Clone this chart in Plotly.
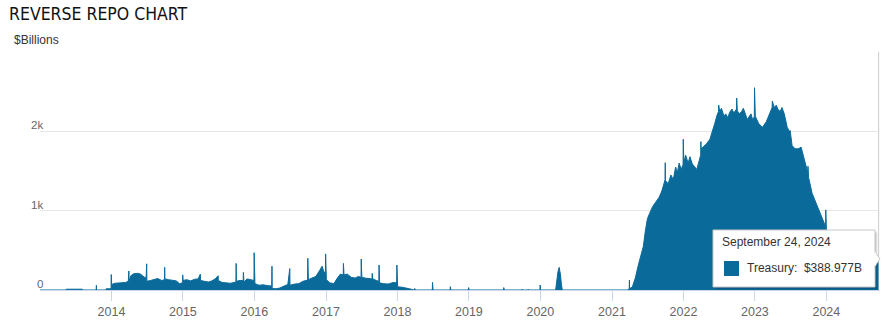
import plotly.graph_objects as go

# ---------------- data ----------------
dates = [
    "2013-01-01", "2013-05-14", "2013-05-15", "2013-08-05", "2013-08-06",
    "2013-10-15", "2013-10-16", "2013-10-17",
    "2013-12-04", "2013-12-05", "2013-12-30", "2013-12-31",
    "2014-01-02", "2014-01-20", "2014-02-10", "2014-02-28", "2014-03-14", "2014-03-28", "2014-03-31",
    "2014-04-01", "2014-04-10", "2014-04-25", "2014-05-15", "2014-05-30", "2014-06-16", "2014-06-27",
    "2014-06-30", "2014-07-01", "2014-07-20", "2014-08-08", "2014-08-25", "2014-09-15", "2014-09-29",
    "2014-09-30", "2014-10-01", "2014-10-20", "2014-11-10", "2014-11-28", "2014-12-15", "2014-12-30",
    "2014-12-31",
    "2015-01-02", "2015-01-20", "2015-02-10", "2015-03-02", "2015-03-20", "2015-03-31", "2015-04-01",
    "2015-04-20", "2015-05-11", "2015-05-29", "2015-06-15", "2015-06-30", "2015-07-01", "2015-07-20",
    "2015-08-10", "2015-09-01", "2015-09-29", "2015-09-30", "2015-10-01", "2015-10-20", "2015-11-05",
    "2015-11-06", "2015-11-09", "2015-11-25", "2015-12-15", "2015-12-30", "2015-12-31",
    "2016-01-04", "2016-01-25", "2016-02-15", "2016-03-10", "2016-03-30", "2016-03-31", "2016-04-01",
    "2016-04-20", "2016-05-10", "2016-06-01", "2016-06-20", "2016-06-30", "2016-07-01", "2016-07-25",
    "2016-08-15", "2016-09-06", "2016-09-29", "2016-09-30", "2016-10-03", "2016-10-20", "2016-11-10",
    "2016-11-28", "2016-12-12", "2016-12-22", "2016-12-29", "2016-12-30",
    "2017-01-03", "2017-01-20", "2017-02-10", "2017-02-28", "2017-03-15", "2017-03-30", "2017-03-31",
    "2017-04-03", "2017-04-20", "2017-05-10", "2017-05-30", "2017-06-15", "2017-06-29", "2017-06-30",
    "2017-07-03", "2017-07-20", "2017-08-10", "2017-08-24", "2017-08-25", "2017-08-28", "2017-09-15",
    "2017-09-28", "2017-09-29", "2017-10-02", "2017-10-20", "2017-11-15", "2017-12-11", "2017-12-28",
    "2017-12-29",
    "2018-01-02", "2018-01-25", "2018-02-20", "2018-03-12", "2018-03-26", "2018-03-29", "2018-03-30",
    "2018-04-02", "2018-06-28", "2018-06-29", "2018-07-02", "2018-09-27", "2018-09-28", "2018-10-01",
    "2018-12-28", "2018-12-31", "2019-01-02",
    "2019-06-27", "2019-06-28", "2019-07-01", "2019-09-27", "2019-09-30", "2019-10-01", "2019-10-30",
    "2019-10-31", "2019-11-01", "2019-12-30", "2019-12-31", "2020-01-02",
    "2020-03-19", "2020-03-24", "2020-03-31", "2020-04-06", "2020-04-13", "2020-04-17", "2020-04-22",
    "2021-03-24", "2021-03-25", "2021-03-30", "2021-03-31", "2021-04-01", "2021-04-15", "2021-04-30",
    "2021-05-14", "2021-05-28", "2021-06-10", "2021-06-21", "2021-07-01", "2021-07-12", "2021-07-27",
    "2021-08-10", "2021-08-30", "2021-09-13", "2021-09-29", "2021-09-30", "2021-10-01", "2021-10-15",
    "2021-10-29", "2021-11-10", "2021-11-22", "2021-12-01", "2021-12-10", "2021-12-20", "2021-12-30",
    "2021-12-31",
    "2022-01-03", "2022-01-12", "2022-01-25", "2022-02-03", "2022-02-15", "2022-02-25", "2022-03-10",
    "2022-03-30", "2022-03-31", "2022-04-01", "2022-04-14", "2022-04-28", "2022-05-16", "2022-05-27",
    "2022-06-10", "2022-06-21", "2022-06-29", "2022-06-30", "2022-07-05", "2022-07-14", "2022-07-27",
    "2022-08-05", "2022-08-16", "2022-08-25", "2022-09-06", "2022-09-15", "2022-09-29", "2022-09-30",
    "2022-10-03", "2022-10-13", "2022-10-25", "2022-11-03", "2022-11-15", "2022-11-23", "2022-12-01",
    "2022-12-12", "2022-12-20", "2022-12-29", "2022-12-30",
    "2023-01-03", "2023-01-20", "2023-02-08", "2023-02-28", "2023-03-15", "2023-03-30", "2023-03-31",
    "2023-04-10", "2023-04-20", "2023-04-28", "2023-05-10", "2023-05-19", "2023-05-31", "2023-06-15",
    "2023-06-29", "2023-06-30", "2023-07-10", "2023-07-25", "2023-08-10", "2023-08-25", "2023-09-11",
    "2023-09-28", "2023-09-29", "2023-10-02", "2023-10-20", "2023-11-10", "2023-11-28", "2023-12-15",
    "2023-12-28", "2023-12-29",
    "2024-01-02", "2024-01-22", "2024-02-12", "2024-03-01", "2024-03-27", "2024-03-28", "2024-04-15",
    "2024-05-10", "2024-06-03", "2024-06-27", "2024-06-28", "2024-07-15", "2024-08-12", "2024-08-30",
    "2024-09-10", "2024-09-24",
]

treasury_b = [
    0, 0, 10, 10, 0,
    0, 60, 0,
    0, 15, 15, 195,
    70, 85, 90, 100, 95, 110, 240,
    120, 180, 205, 210, 200, 165, 150,
    330, 110, 120, 130, 145, 120, 130,
    285, 140, 130, 120, 115, 80, 90,
    190,
    120, 130, 115, 135, 140, 200, 120,
    110, 100, 115, 140, 180, 120, 95,
    90, 85, 100, 335, 110, 120, 120,
    222, 100, 140, 130, 120, 470,
    80, 60, 65, 55, 50, 300, 20,
    15, 25, 50, 70, 270, 60, 75,
    80, 110, 125, 400, 130, 150, 170,
    240, 300, 220, 230, 455,
    130, 90, 80, 150, 200, 190, 335,
    190, 200, 160, 150, 170, 160, 390,
    160, 150, 140, 140, 210, 140, 120,
    110, 315, 90, 80, 75, 95, 90,
    315,
    40, 35, 25, 10, 0, 0, 20,
    0, 0, 96, 0, 0, 42, 0,
    0, 30, 0,
    0, 30, 0, 0, 10, 0, 0,
    10, 0, 0, 63, 0,
    0, 125, 230, 285, 190, 80, 0,
    0, 10, 10, 126, 15, 40, 150,
    300, 450, 550, 755, 900, 965, 1050,
    1100, 1170, 1250, 1390, 1605, 1380, 1340,
    1450, 1390, 1550, 1480, 1600, 1520, 1580,
    1900,
    1600, 1700, 1600, 1680, 1590, 1560, 1520,
    1700, 1870, 1780, 1810, 1840, 1900, 1980,
    2100, 2200, 2250, 2330, 2250, 2290, 2190,
    2220, 2170, 2240, 2280, 2230, 2280, 2420,
    2260, 2220, 2250, 2290, 2200, 2150, 2180,
    2220, 2150, 2180, 2550,
    2190, 2100, 2050, 2120, 2200, 2300, 2380,
    2300, 2330, 2280, 2250, 2300, 2220, 2050,
    1990, 2010, 1820, 1780, 1780, 1800, 1640,
    1480, 1560, 1420, 1220, 1090, 1000, 880,
    800, 1010,
    700, 650, 560, 500, 450, 470, 400,
    450, 430, 420, 480, 380, 320, 320,
    300, 388.977,
]

year_ticks = ["2014-01-01", "2015-01-01", "2016-01-01", "2017-01-01", "2018-01-01", "2019-01-01",
              "2020-01-01", "2021-01-01", "2022-01-01", "2023-01-01", "2024-01-01"]
year_labels = ["2014", "2015", "2016", "2017", "2018", "2019", "2020", "2021", "2022", "2023", "2024"]
y_ticks = [0, 1000, 2000]
y_labels = ["0", "1k", "2k"]

title_text = "REVERSE REPO CHART"
unit_text = "$Billions"
series_name = "Treasury"
tooltip_date = "September 24, 2024"

# ---------------- layout geometry ----------------
W, H = 884, 323
ML, MR, MT, MB = 40, 4, 52, 33
PW, PH = W - ML - MR, H - MT - MB
BLUE = "#0a6a9a"
FONT = "Liberation Sans, Arial, Helvetica, sans-serif"


def px_x(p):
    return (p - ML) / PW


def px_y(p):
    return (H - MB - p) / PH


fig = go.Figure()

fig.add_trace(go.Scatter(
    x=dates, y=treasury_b, mode="lines", fill="tozeroy",
    line=dict(color=BLUE, width=1), fillcolor=BLUE,
    name=series_name, hoverinfo="skip", showlegend=False,
))

shapes = []
# crosshair at the hovered point
shapes.append(dict(type="line", xref="x", yref="y", x0=dates[-1], x1=dates[-1],
                   y0=treasury_b[-1], y1=3000, line=dict(color="#cccccc", width=1), layer="below"))

# tooltip shadow + box
tx0, tx1, ty0, ty1 = 713, 875, 230, 287
for off, op in [(3, 0.05), (2, 0.08), (1, 0.12)]:
    shapes.append(dict(type="rect", xref="paper", yref="paper",
                       x0=px_x(tx0 + off), x1=px_x(tx1 + off), y0=px_y(ty1 + off), y1=px_y(ty0 + off),
                       line=dict(width=0), fillcolor=f"rgba(0,0,0,{op})"))
shapes.append(dict(type="rect", xref="paper", yref="paper",
                   x0=px_x(tx0), x1=px_x(tx1), y0=px_y(ty1), y1=px_y(ty0),
                   line=dict(color="#c8c8c8", width=1), fillcolor="white"))
# pointer arrow
shapes.append(dict(type="path", xref="paper", yref="paper",
                   path=f"M {px_x(tx1)},{px_y(252)} L {px_x(880)},{px_y(259)} L {px_x(tx1)},{px_y(266)} Z",
                   line=dict(color="#c8c8c8", width=1), fillcolor="white"))
shapes.append(dict(type="line", xref="paper", yref="paper",
                   x0=px_x(tx1), x1=px_x(tx1), y0=px_y(252.5), y1=px_y(265.5),
                   line=dict(color="white", width=2)))
# legend square
shapes.append(dict(type="rect", xref="paper", yref="paper",
                   x0=px_x(724), x1=px_x(739), y0=px_y(276), y1=px_y(261),
                   line=dict(width=0), fillcolor=BLUE))

annotations = []
for v, lab in zip(y_ticks, y_labels):
    annotations.append(dict(xref="paper", yref="y", x=px_x(45), y=v, text=lab, showarrow=False,
                            xanchor="right", yanchor="middle", yshift=6,
                            font=dict(family=FONT, size=11.5, color="#666666")))
annotations.append(dict(xref="paper", yref="paper", x=px_x(12), y=px_y(40), text=unit_text,
                        showarrow=False, xanchor="left", yanchor="middle",
                        font=dict(family=FONT, size=12, color="#333333")))
annotations.append(dict(xref="paper", yref="paper", x=px_x(720), y=px_y(242), text=tooltip_date,
                        showarrow=False, xanchor="left", yanchor="middle",
                        font=dict(family=FONT, size=12, color="#333333")))
annotations.append(dict(xref="paper", yref="paper", x=px_x(745), y=px_y(268),
                        text=f"{series_name}:  ${treasury_b[-1]:.3f}B",
                        showarrow=False, xanchor="left", yanchor="middle",
                        font=dict(family=FONT, size=12, color="#333333")))

fig.update_layout(
    width=W, height=H,
    margin=dict(l=ML, r=MR, t=MT, b=MB, pad=0),
    paper_bgcolor="white", plot_bgcolor="white",
    title=dict(text=title_text, xref="container", yref="container", x=9 / W, xanchor="left",
               y=1 - 14 / H, yanchor="middle",
               font=dict(family="Liberation Sans Narrow, DejaVu Sans Condensed, sans-serif",
                         size=17.5, color="#111111")),
    xaxis=dict(type="date", range=["2013-01-01", "2024-10-01"], tickvals=year_ticks, ticktext=year_labels,
               showgrid=False, zeroline=False, showline=True, linecolor="#ccd6eb", linewidth=1,
               ticks="outside", ticklen=10, tickcolor="#ccd6eb", tickwidth=1,
               tickfont=dict(family=FONT, size=12.5, color="#666666")),
    yaxis=dict(range=[0, 3000], tickvals=[0, 1000, 2000, 3000], showticklabels=False,
               showgrid=True, gridcolor="#e6e6e6", gridwidth=1, zeroline=False, ticks=""),
    shapes=shapes, annotations=annotations,
    showlegend=False, hovermode=False,
)

fig.write_html("out.html", config={"displayModeBar": False})
